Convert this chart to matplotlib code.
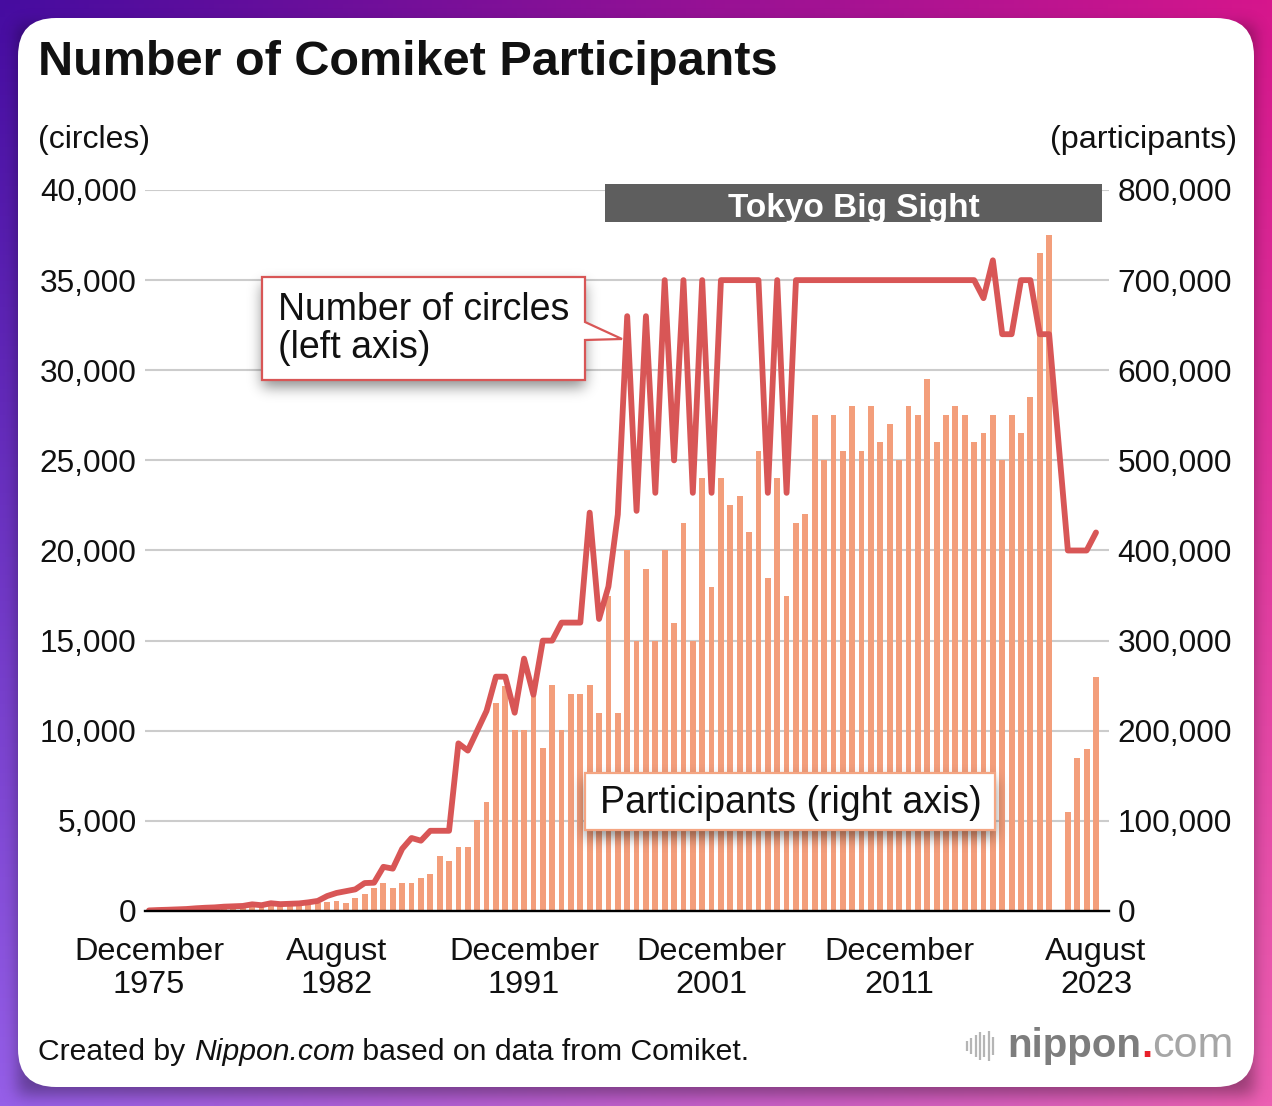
import numpy as np
import matplotlib
matplotlib.use("Agg")
import matplotlib.pyplot as plt
from matplotlib.patches import FancyBboxPatch, Polygon, Rectangle
from matplotlib.ticker import FuncFormatter

nan = np.nan

# ---------------- data ----------------
event_no = list(range(1, 103))          # Comiket 1 .. Comiket 102 (C98 cancelled)

participants = [
    700, 1000, 1500, 2000, 2000, 2500, 3000, 3000, 3500, 4000, 4500, 4500, 5000, 5000, 5500, 5500, 6000,   # C1-17
    6700, 8500, 10400, 11000, 8500, 14000, 18900, 25900, 30700, 25900, 30700, 30700, 36300, 41000,         # C18-31
    61000, 55800, 70700, 71400, 101000, 121000, 231000, 250000, 200800, 200800, 242000, 181000, 250700,    # C32-44
    200800, 240800, 240800, 250700, 220000,                                                                # C45-49
    350000, 220000, 400000, 300000, 380000, 300000, 400000, 320000, 430000, 300000, 480000, 360000,        # C50-61
    480000, 450000, 460000, 420000, 510000, 370000, 480000, 350000, 430000,                                # C62-70
    440000, 550000, 500000, 550000, 510000, 560000, 510000, 560000, 520000, 540000, 500000, 560000,        # C71-82
    550000, 590000, 520000, 550000, 560000, 550000, 520000, 530000, 550000, 500000,                        # C83-92
    550000, 530000, 570000, 730000, 750000, nan, 110000, 170000, 180000, 260000,                           # C93-102
]

circles = [
    32, 54, 70, 90, 110, 150, 180, 200, 240, 260, 280, 370, 320, 430, 380, 400, 420, 480, 560, 830,        # C1-20
    1000, 1100, 1200, 1550, 1570, 2450, 2350, 3450, 4050, 3900, 4450, 4450, 4450,                          # C21-33
    9300, 8900, 10000, 11100, 13000, 13000, 11000, 14000, 12000, 15000, 15000, 16000, 16000, 16000,        # C34-47
    22100, 16200,                                                                                          # C48-49
    18000, 22000, 33000, 22200, 33000, 23200, 35000, 25000, 35000, 23200, 35000, 23200,                    # C50-61
    35000, 35000, 35000, 35000, 35000, 23200, 35000, 23200, 35000,                                         # C62-70
    35000, 35000, 35000, 35000, 35000, 35000, 35000, 35000, 35000, 35000, 35000, 35000,                    # C71-82
    35000, 35000, 35000, 35000, 35000, 35000, 35000, 34000, 36100, 32000,                                  # C83-92
    32000, 35000, 35000, 32000, 32000, nan, 20000, 20000, 20000, 21000,                                    # C93-102
]

tick_events = [1, 21, 41, 61, 81, 102]
tick_labels = ["December\n1975", "August\n1982", "December\n1991",
               "December\n2001", "December\n2011", "August\n2023"]
left_ticks = [0, 5000, 10000, 15000, 20000, 25000, 30000, 35000, 40000]
right_ticks = [0, 100000, 200000, 300000, 400000, 500000, 600000, 700000, 800000]
big_sight_first = 50        # first Comiket held at Tokyo Big Sight (band start)

# ---------------- style ----------------
plt.rcParams['font.family'] = ['Liberation Sans', 'DejaVu Sans']
BAR = '#f39e7b'
LINE = '#d85656'
TXT = '#111111'

W, H = 1272, 1106
fig = plt.figure(figsize=(W / 100, H / 100), dpi=100)


def fx(x):
    return x / W


def fy(y):
    return 1 - y / H


def soft_shadow(axo, x0, y0, x1, y1, dx, dy, sigma, alpha, z):
    pad = int(3 * sigma) + 2
    X0, Y0, X1, Y1 = x0 + dx - pad, y0 + dy - pad, x1 + dx + pad, y1 + dy + pad
    w, h = int(X1 - X0), int(Y1 - Y0)
    m = np.zeros((h, w))
    m[pad:h - pad, pad:w - pad] = 1.0
    k = np.arange(-3 * sigma, 3 * sigma + 1)
    g = np.exp(-k ** 2 / (2.0 * sigma ** 2))
    g /= g.sum()
    m = np.apply_along_axis(lambda r: np.convolve(r, g, mode='same'), 1, m)
    m = np.apply_along_axis(lambda c: np.convolve(c, g, mode='same'), 0, m)
    rgba = np.zeros((h, w, 4))
    rgba[..., 3] = m * alpha
    axo.imshow(rgba, extent=[X0, X1, Y1, Y0], origin='upper', zorder=z,
               interpolation='bilinear', aspect='auto')


# ---------------- background + card ----------------
bg = fig.add_axes([0, 0, 1, 1], zorder=-5)
bg.set_axis_off()
tl = np.array([70, 12, 160]); tr = np.array([214, 22, 140])
bl = np.array([150, 95, 232]); br = np.array([236, 95, 178])
u = np.linspace(0, 1, 256)[None, :, None]
v = np.linspace(0, 1, 256)[:, None, None]
grad = (tl * (1 - u) * (1 - v) + tr * u * (1 - v) + bl * (1 - u) * v + br * u * v) / 255.0
bg.imshow(grad, extent=[0, W, H, 0], origin='upper', aspect='auto', zorder=0)
soft_shadow(bg, 18, 18, 1254, 1087, 0, 8, 8, 0.35, 1)
card = FancyBboxPatch((18, 18), 1236, 1069, boxstyle="round,pad=0,rounding_size=38",
                      facecolor='white', edgecolor='none', zorder=2)
bg.add_patch(card)
bg.set_xlim(0, W)
bg.set_ylim(H, 0)

# ---------------- main axes ----------------
ax_l, ax_r, ax_t, ax_b = 145, 1109, 190, 911
ax = fig.add_axes([fx(ax_l), fy(ax_b), (ax_r - ax_l) / W, (ax_b - ax_t) / H])
ax2 = ax.twinx()
ax2.set_zorder(1)
ax.set_zorder(2)
ax.patch.set_visible(False)
ax2.patch.set_visible(False)

ev = np.array(event_no, dtype=float)
p = np.array(participants, dtype=float)
c = np.array(circles, dtype=float)
okp = ~np.isnan(p)
okc = ~np.isnan(c)

ax2.bar(ev[okp], p[okp], width=0.62, color=BAR, zorder=2, linewidth=0)
ax.plot(ev[okc], c[okc], color=LINE, lw=4.2, solid_joinstyle='round',
        solid_capstyle='round', zorder=3)

ax.set_xlim(1 - 4 / 9.375, 102 + 13 / 9.375)
ax.set_ylim(0, 40000)
ax2.set_ylim(0, 800000)

ax2.set_yticks(right_ticks)
ax.set_yticks(left_ticks)
fmt = FuncFormatter(lambda val, pos: f"{int(val):,}")
ax.yaxis.set_major_formatter(fmt)
ax2.yaxis.set_major_formatter(fmt)
ax2.yaxis.grid(True, color='#cccccc', lw=1.5)
ax2.set_axisbelow(True)

ax.set_xticks(tick_events)
ax.set_xticklabels(tick_labels)
for t in ax.get_xticklabels():
    t.set_linespacing(1.1)
ax.tick_params(axis='x', length=0, pad=19, labelsize=23.4, colors=TXT)
ax.tick_params(axis='y', length=0, pad=6, labelsize=22.8, colors=TXT)
ax2.tick_params(axis='y', length=0, pad=6, labelsize=22.8, colors=TXT)

for a in (ax, ax2):
    for s in ('top', 'left', 'right', 'bottom'):
        a.spines[s].set_visible(False)
ax.spines['bottom'].set_visible(True)
ax.spines['bottom'].set_color('black')
ax.spines['bottom'].set_linewidth(1.7)
ax.spines['bottom'].set_zorder(5)

# Tokyo Big Sight band
band_x0 = big_sight_first - 0.36
band_x1 = event_no[-1] + 0.65
ax.add_patch(Rectangle((band_x0, 38225), band_x1 - band_x0, 40333 - 38225,
                       facecolor='#5e5e5e', edgecolor='none', clip_on=False, zorder=6))
ax.text((band_x0 + band_x1) / 2, 39000, "Tokyo Big Sight", color='white', fontsize=24,
        fontweight='bold', ha='center', va='center', zorder=7, clip_on=False)

# ---------------- overlay (annotation boxes) ----------------
ov = fig.add_axes([0, 0, 1, 1], zorder=10)
ov.set_axis_off()
ov.patch.set_visible(False)

soft_shadow(ov, 262, 277, 585, 380, 0, 7, 7, 0.45, 1)
callout = [(262, 277), (585, 277), (585, 322), (622, 339), (585, 340), (585, 380), (262, 380)]
ov.add_patch(Polygon(callout, closed=True, facecolor='white', edgecolor=LINE, lw=1.6, zorder=2))
ov.text(278, 329, "Number of circles\n(left axis)", fontsize=27, ha='left', va='center',
        linespacing=1.05, color=TXT, zorder=3)

soft_shadow(ov, 585, 773, 995, 830, 0, 7, 7, 0.45, 1)
ov.add_patch(Rectangle((585, 773), 410, 57, facecolor='white', edgecolor='#f4a582', lw=1.6, zorder=2))
ov.text(600, 803, "Participants (right axis)", fontsize=27, ha='left', va='center',
        color=TXT, zorder=3)

# logo icon (sound-wave bars)
icon_h = [10, 16, 22, 28, 22, 30, 18]
for i, hh in enumerate(icon_h):
    xx = 967 + i * 4.3
    ov.plot([xx, xx], [1046 - hh / 2, 1046 + hh / 2], color='#b5b5b5', lw=1.6, zorder=3,
            solid_capstyle='butt')

ov.set_xlim(0, W)
ov.set_ylim(H, 0)

# ---------------- texts ----------------
fig.text(fx(38), fy(75), "Number of Comiket Participants", fontsize=35, fontweight='bold',
         ha='left', va='baseline', color=TXT)
fig.text(fx(38), fy(140), "(circles)", fontsize=23, ha='left', va='center', color=TXT)
fig.text(fx(1237), fy(140), "(participants)", fontsize=23.3, ha='right', va='center', color=TXT)

r = fig.canvas.get_renderer()
fy_foot = fy(1060)
FS = 21.7
t1 = fig.text(fx(38), fy_foot, "Created by ", fontsize=FS, ha='left', va='baseline', color=TXT)
b1 = t1.get_window_extent(r)
t2 = fig.text(b1.x1 / W, fy_foot, "Nippon.com", fontsize=FS, style='italic', ha='left',
              va='baseline', color=TXT)
b2 = t2.get_window_extent(r)
fig.text(b2.x1 / W, fy_foot, " based on data from Comiket.", fontsize=FS, ha='left',
         va='baseline', color=TXT)

l1 = fig.text(fx(1007), fy(1057), "nippon", fontsize=29, fontweight='bold', ha='left',
              va='baseline', color='#7d7d7d')
lb = l1.get_window_extent(r)
l2 = fig.text(lb.x1 / W, fy(1057), ".", fontsize=29, fontweight='bold', ha='left',
              va='baseline', color='#e8202a')
lb2 = l2.get_window_extent(r)
fig.text(lb2.x1 / W, fy(1057), "com", fontsize=31, ha='left', va='baseline', color='#a6a6a6')

fig.savefig("out.png", dpi=100)
